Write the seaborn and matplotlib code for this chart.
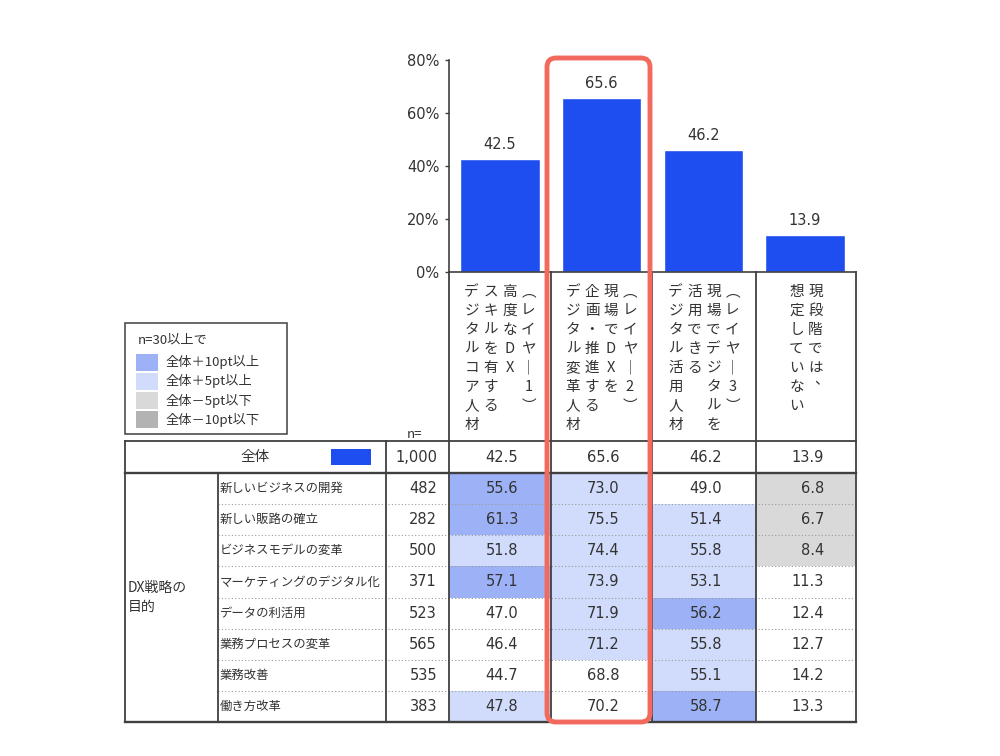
import seaborn as sns
import matplotlib.pyplot as plt
import matplotlib.patches as mpatches
import pandas as pd
import numpy as np

sns.set_style('white')
plt.rcParams['font.family'] = ['Noto Sans CJK JP', 'DejaVu Sans']

# --- data ---
categories = ['レイヤー1', 'レイヤー2', 'レイヤー3', '想定なし']
header_lines = [
    ['（レイヤー1）', '高度なDX', 'スキルを有する', 'デジタルコア人材'],
    ['（レイヤー2）', '現場でDXを', '企画・推進する', 'デジタル変革人材'],
    ['（レイヤー3）', '現場でデジタルを', '活用できる', 'デジタル活用人材'],
    ['現段階では、', '想定していない'],
]
total_values = [42.5, 65.6, 46.2, 13.9]
total_label = '全体'
total_n = '1,000'
group_label = 'DX戦略の\n目的'
row_labels = ['新しいビジネスの開発', '新しい販路の確立', 'ビジネスモデルの変革',
              'マーケティングのデジタル化', 'データの利活用', '業務プロセスの変革',
              '業務改善', '働き方改革']
row_n = [482, 282, 500, 371, 523, 565, 535, 383]
row_values = [
    [55.6, 73.0, 49.0, 6.8],
    [61.3, 75.5, 51.4, 6.7],
    [51.8, 74.4, 55.8, 8.4],
    [57.1, 73.9, 53.1, 11.3],
    [47.0, 71.9, 56.2, 12.4],
    [46.4, 71.2, 55.8, 12.7],
    [44.7, 68.8, 55.1, 14.2],
    [47.8, 70.2, 58.7, 13.3],
]
legend_title = 'n=30以上で'
legend_labels = ['全体＋10pt以上', '全体＋5pt以上', '全体－5pt以下', '全体－10pt以下']
yticks = [0, 20, 40, 60, 80]

# --- styles ---
bar_color = '#1F4EF0'
legend_colors = ['#9DB2F6', '#D1DCFC', '#D9D9D9', '#B3B3B3']
text_color = '#333333'
line_color = '#404040'
highlight = '#F26A5E'
num_font = ['DejaVu Sans']
# vertical presentation forms for the header columns
vert_map = {'（': '\ufe35', '）': '\ufe36', 'ー': '｜'}


def cell_color(v, base):
    d = round(v - base, 1)
    if d >= 10:
        return legend_colors[0]
    if d >= 5:
        return legend_colors[1]
    if d <= -10:
        return legend_colors[3]
    if d <= -5:
        return legend_colors[2]
    return 'white'


W, H = 1000, 756
fig = plt.figure(figsize=(10, 7.56), dpi=100)

# layout (pixels)
col_edges = [449, 551, 652, 756, 856]
bar_top, bar_bottom = 60, 272
table_top, total_bottom, table_bottom = 441, 473, 722
left, sub_x, n_x = 125, 218, 386
row_h = (table_bottom - total_bottom) / len(row_labels)

# bar chart
ax = fig.add_axes([col_edges[0] / W, 1 - bar_bottom / H,
                   (col_edges[-1] - col_edges[0]) / W, (bar_bottom - bar_top) / H])
df = pd.DataFrame({'cat': categories, 'val': total_values})
sns.barplot(data=df, x='cat', y='val', color=bar_color, saturation=1,
            width=0.78, ax=ax)
ax.set_xlim(-0.5, 3.5)
ax.set_ylim(0, 80)
ax.set_yticks(yticks)
ax.set_yticklabels([f'{t}%' for t in yticks], fontsize=10.5, color=text_color,
                   family=num_font)
ax.set_xticks([])
ax.set_xlabel('')
ax.set_ylabel('')
ax.tick_params(axis='y', length=3, width=1, color=line_color, pad=4, left=True)
for s in ['top', 'right']:
    ax.spines[s].set_visible(False)
for s in ['left', 'bottom']:
    ax.spines[s].set_color(line_color)
    ax.spines[s].set_linewidth(1.2)
ax.bar_label(ax.containers[0], fmt='%.1f', padding=5, fontsize=10.5, color=text_color,
             family=num_font)
ax.patch.set_alpha(0)

# overlay in pixel coordinates
ov = fig.add_axes([0, 0, 1, 1], zorder=5)
ov.set_xlim(0, W)
ov.set_ylim(H, 0)
ov.axis('off')
ov.patch.set_alpha(0)

centers = [(col_edges[j] + col_edges[j + 1]) / 2 for j in range(4)]

# vertical header labels
pitch = 19
for j, lines in enumerate(header_lines):
    n = len(lines)
    for k, line in enumerate(lines):
        x = centers[j] + (n - 1) / 2 * pitch - k * pitch
        for i, ch in enumerate(line):
            y = 292 + i * pitch
            dx, dy = (6, -7) if ch == '、' else (0, 0)
            ov.text(x + dx, y + dy, vert_map.get(ch, ch), ha='center', va='center',
                    fontsize=10.5, color=text_color)

# cell backgrounds
for i, vals in enumerate(row_values):
    top = total_bottom + i * row_h
    for j, v in enumerate(vals):
        c = cell_color(v, total_values[j])
        ov.add_patch(mpatches.Rectangle((col_edges[j], top), col_edges[j + 1] - col_edges[j],
                                        row_h, fc=c, ec='none', zorder=1))

# dotted row separators
for i in range(1, len(row_labels)):
    y = total_bottom + i * row_h
    ov.plot([sub_x, col_edges[-1]], [y, y], ls=(0, (1, 2)), color='#9A9A9A', lw=0.8, zorder=2)

# solid lines
def seg(x0, y0, x1, y1, lw=1.3):
    ov.plot([x0, x1], [y0, y1], color=line_color, lw=lw, zorder=3, solid_capstyle='projecting')

seg(left, table_top, col_edges[-1], table_top)
seg(left, total_bottom, col_edges[-1], total_bottom, lw=1.7)
seg(left, table_bottom, col_edges[-1], table_bottom, lw=1.7)
seg(left, table_top, left, table_bottom)
seg(sub_x, total_bottom, sub_x, table_bottom)
seg(n_x, table_top, n_x, table_bottom)
for x in col_edges:
    seg(x, bar_bottom, x, table_bottom)

# total row
yc0 = (table_top + total_bottom) / 2
ov.text(255, yc0, total_label, ha='center', va='center', fontsize=10.5, color=text_color)
ov.add_patch(mpatches.Rectangle((331, 449), 40, 16, fc=bar_color, ec='none'))
ov.text(437, yc0, total_n, ha='right', va='center', fontsize=10.5, color=text_color,
        family=num_font)
for j, v in enumerate(total_values):
    ov.text(centers[j] + 18, yc0, f'{v:.1f}', ha='right', va='center', fontsize=10.5,
            color=text_color, family=num_font)

# detail rows
ov.text(left + 3, (total_bottom + table_bottom) / 2, group_label, ha='left', va='center',
        fontsize=10, color=text_color, linespacing=1.45)
for i, (lab, n_, vals) in enumerate(zip(row_labels, row_n, row_values)):
    yc = total_bottom + (i + 0.5) * row_h
    ov.text(sub_x + 2, yc, lab, ha='left', va='center', fontsize=8.9, color=text_color)
    ov.text(437, yc, str(n_), ha='right', va='center', fontsize=10.5, color=text_color,
            family=num_font)
    for j, v in enumerate(vals):
        ov.text(centers[j] + 18, yc, f'{v:.1f}', ha='right', va='center',
                fontsize=10.5, color=text_color, family=num_font)

ov.text(415, 434, 'n=', ha='center', va='center', fontsize=9.5, color=text_color)

# legend box
ov.add_patch(mpatches.Rectangle((125, 323), 162, 111, fc='white', ec=line_color, lw=1.1))
ov.text(138, 340, legend_title, ha='left', va='center', fontsize=9.5, color=text_color)
for k, (lab, c) in enumerate(zip(legend_labels, legend_colors)):
    yc = 362 + k * 19.3
    ov.add_patch(mpatches.Rectangle((136, yc - 8.5), 22, 17, fc=c, ec='none'))
    ov.text(166, yc, lab, ha='left', va='center', fontsize=9.5, color=text_color)

# highlight frame
ov.add_patch(mpatches.FancyBboxPatch((547, 58), 103, 664,
                                     boxstyle='round,pad=0,rounding_size=9',
                                     fc='none', ec=highlight, lw=3.5, zorder=6))

fig.savefig('out.png', dpi=100)
